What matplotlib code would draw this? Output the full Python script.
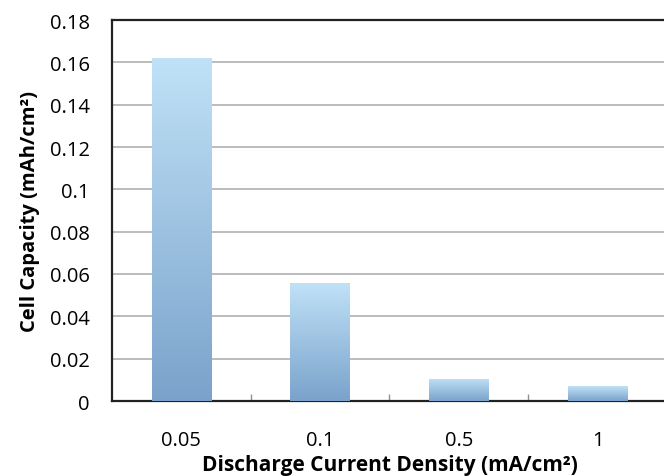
import matplotlib
matplotlib.use("Agg")
import matplotlib.pyplot as plt
import numpy as np
from matplotlib.colors import LinearSegmentedColormap

# Discharge current density categories and measured cell capacity
categories = ["0.05", "0.1", "0.5", "1"]
capacity = [0.162, 0.0557, 0.0104, 0.0069]
y_ticks = [0, 0.02, 0.04, 0.06, 0.08, 0.1, 0.12, 0.14, 0.16, 0.18]
y_tick_labels = ["0", "0.02", "0.04", "0.06", "0.08", "0.1", "0.12", "0.14", "0.16", "0.18"]

plt.rcParams["font.family"] = ["Open Sans", "DejaVu Sans"]

fig = plt.figure(figsize=(6.64, 4.77), dpi=100)
ax = fig.add_axes([112 / 664, 1 - 402 / 477, 555 / 664, 381 / 477])

x = np.arange(len(categories))
bars = ax.bar(x, capacity, width=0.43, color="none", edgecolor="none", zorder=3)

# vertical gradient: dark at the bottom, light at the top of each bar
cmap = LinearSegmentedColormap.from_list("barfade", ["#7aa2cb", "#c0e2f7"])
grad = np.linspace(0, 1, 256).reshape(-1, 1)
for bar in bars:
    x0, y0 = bar.get_x(), bar.get_y()
    w, h = bar.get_width(), bar.get_height()
    im = ax.imshow(grad, cmap=cmap, origin="lower", aspect="auto",
                   extent=(x0, x0 + w, y0, y0 + h), zorder=3)
    im.set_clip_path(bar)

ax.set_xlim(-0.5, len(categories) - 0.5)
ax.set_ylim(0, 0.18)
ax.set_yticks(y_ticks)
ax.set_yticklabels(y_tick_labels, fontsize=14.5)
ax.yaxis.grid(True, color="#b0b0b0", linewidth=1.2, zorder=0)
ax.set_axisbelow(True)

ax.set_xticks(x)
ax.set_xticklabels(categories, fontsize=14.5)
ax.tick_params(axis="x", length=0, pad=21)
ax.tick_params(axis="y", length=0, pad=16)
# category separators along the bottom
ax.set_xticks(np.arange(0.5, len(categories) - 0.5, 1), minor=True)
ax.tick_params(axis="x", which="minor", direction="in", length=5, color="#909090", width=1)

for side in ["left", "bottom", "top", "right"]:
    ax.spines[side].set_color("#222222")
    ax.spines[side].set_linewidth(1.6)

ax.set_xlabel("Discharge Current Density (mA/cm²)", fontsize=15,
              fontweight="bold", labelpad=3)
ax.set_ylabel("Cell Capacity (mAh/cm²)", fontsize=14.5, fontweight="bold", labelpad=7)

fig.savefig("out.png", dpi=100)
